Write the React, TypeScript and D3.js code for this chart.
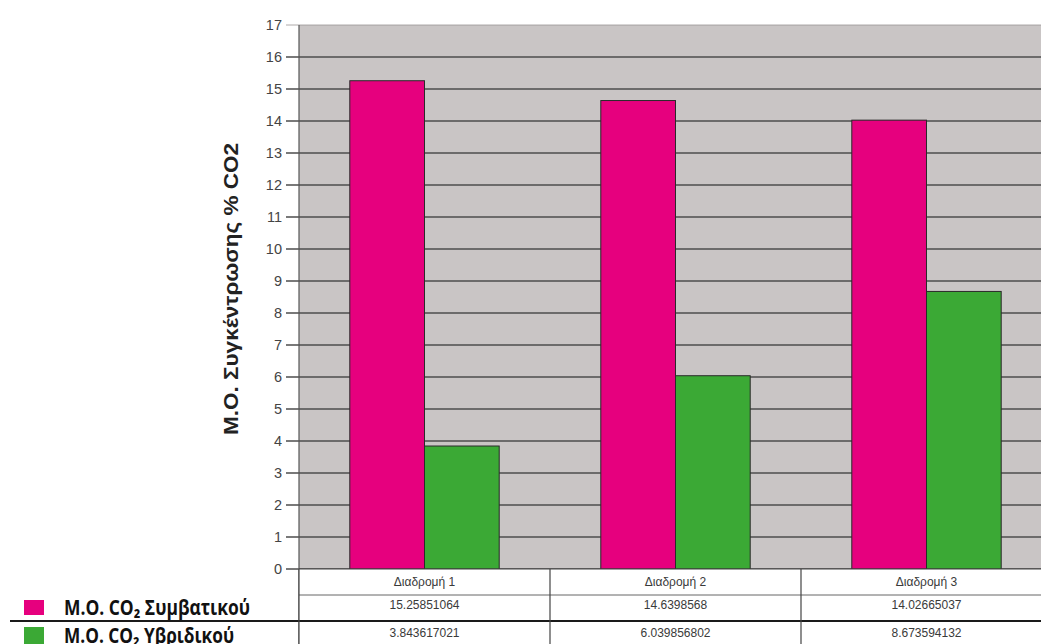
import React from "react";
import * as d3 from "d3";

const categories = ["Διαδρομή 1", "Διαδρομή 2", "Διαδρομή 3"];
const seriesNames = ["Μ.Ο. CO₂ Συμβατικού", "Μ.Ο. CO₂ Υβριδικού"];
const conventional = [15.25851064, 14.6398568, 14.02665037];
const hybrid = [3.843617021, 6.039856802, 8.673594132];
const conventionalLabels = ["15.25851064", "14.6398568", "14.02665037"];
const hybridLabels = ["3.843617021", "6.039856802", "8.673594132"];
const yTicks = d3.range(0, 18);
const yTitle = "Μ.Ο. Συγκέντρωσης % CO2";

const W = 1041;
const H = 644;
const plotLeft = 299;
const plotTop = 25;
const plotBottom = 569;
const catWidth = 251;
const plotRight = plotLeft + catWidth * categories.length;

const colors = ["#E6007E", "#3BA935"];

export default function App() {
  const y = d3.scaleLinear().domain([0, 17]).range([plotBottom, plotTop]);
  const x0 = d3
    .scaleBand<string>()
    .domain(categories)
    .range([plotLeft, plotRight])
    .paddingInner(0)
    .paddingOuter(0);
  const x1 = d3
    .scaleBand<string>()
    .domain(["0", "1"])
    .range([0, x0.bandwidth()])
    .paddingInner(0)
    .paddingOuter(0.68);
  const seriesValues = [conventional, hybrid];
  const rowLabels = [conventionalLabels, hybridLabels];

  const tableTop = plotBottom;
  const rowLines = [595, 621];
  const rowBaselines = [586, 609, 637];

  return (
    <div style={{ position: "fixed", left: 0, top: 0 }}>
      <svg width={W} height={H} style={{ display: "block", background: "#fff" }}>
        <rect
          x={plotLeft}
          y={plotTop}
          width={plotRight - plotLeft}
          height={plotBottom - plotTop}
          fill="#C9C5C5"
        />
        {yTicks.map((t) => (
          <line
            key={"g" + t}
            x1={plotLeft - 13}
            x2={plotRight}
            y1={y(t)}
            y2={y(t)}
            stroke={t === 17 ? "#9a9696" : "#4d4d4d"}
            strokeWidth={t === 17 ? 0.8 : 1.4}
          />
        ))}
        {yTicks.map((t) => (
          <text
            key={"t" + t}
            x={plotLeft - 17}
            y={y(t)}
            dy="0.36em"
            textAnchor="end"
            fontFamily="Arial, 'Liberation Sans', sans-serif"
            fontSize={14.5}
            fill="#444"
          >
            {t}
          </text>
        ))}
        {categories.map((c, i) =>
          seriesValues.map((vals, s) => {
            const bx = (x0(c) as number) + (x1(String(s)) as number);
            return (
              <rect
                key={c + s}
                x={bx}
                y={y(vals[i])}
                width={x1.bandwidth()}
                height={plotBottom - y(vals[i])}
                fill={colors[s]}
                stroke="#2a2a2a"
                strokeWidth={1}
              />
            );
          })
        )}
        <line x1={plotLeft} x2={plotLeft} y1={plotTop} y2={H} stroke="#555" strokeWidth={1.2} />
        <text
          transform={`translate(238, ${(plotTop + plotBottom) / 2 - 8}) rotate(-90)`}
          textAnchor="middle"
          fontFamily="Arial, 'Liberation Sans', sans-serif"
          fontWeight="bold"
          fontSize={21}
          fill="#222"
          textLength={292}
          lengthAdjust="spacingAndGlyphs"
        >
          {yTitle}
        </text>
        <rect x={plotLeft} y={tableTop} width={plotRight - plotLeft} height={H - tableTop} fill="#fff" />
        <line x1={plotLeft} x2={plotRight} y1={tableTop} y2={tableTop} stroke="#444" strokeWidth={1.2} />
        <line x1={plotLeft} x2={plotRight} y1={rowLines[0]} y2={rowLines[0]} stroke="#666" strokeWidth={1} />
        <line x1={10} x2={plotRight} y1={rowLines[1]} y2={rowLines[1]} stroke="#1a1a1a" strokeWidth={2} />
        {categories.map((c, i) => (
          <line
            key={"v" + i}
            x1={x0(c) as number}
            x2={x0(c) as number}
            y1={tableTop}
            y2={H}
            stroke="#444"
            strokeWidth={1.2}
          />
        ))}
        {categories.map((c, i) => {
          const cx = (x0(c) as number) + x0.bandwidth() / 2;
          const cells = [c, rowLabels[0][i], rowLabels[1][i]];
          return cells.map((txt, r) => (
            <text
              key={c + "r" + r}
              x={cx}
              y={rowBaselines[r]}
              textAnchor="middle"
              fontFamily="Arial, 'Liberation Sans', sans-serif"
              fontSize={12}
              fill="#3a3a3a"
            >
              {txt}
            </text>
          ));
        })}
        {seriesNames.map((name, s) => (
          <g key={"l" + s}>
            <rect x={24} y={s === 0 ? 600 : 627} width={20} height={s === 0 ? 15 : 17} fill={colors[s]} />
            <text
              x={64}
              y={s === 0 ? 615 : 643}
              fontFamily="'Open Sans', Arial, sans-serif"
              fontWeight="bold"
              fontSize={21}
              fill="#111"
              textLength={s === 0 ? 186 : 170}
              lengthAdjust="spacingAndGlyphs"
            >
              {name}
            </text>
          </g>
        ))}
      </svg>
    </div>
  );
}
